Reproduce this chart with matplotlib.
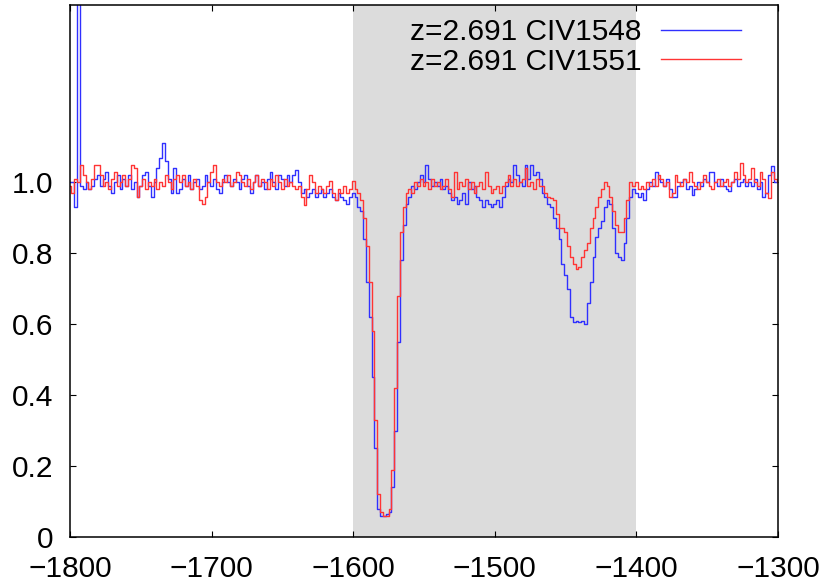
import matplotlib
matplotlib.use('Agg')
import matplotlib.pyplot as plt
import numpy as np

# 速度网格 (km/s), 每 2 km/s 一个像素
velocity = np.arange(-1800, -1299, 2)

# z=2.691 CIV1548 归一化流量
flux_1548 = [
    1.00, 1.00, 0.93, 3.00, 0.99, 0.98, 1.00, 0.98, 0.99, 1.01,
    1.02, 0.99, 1.01, 1.03, 0.99, 0.97, 1.00, 1.02, 0.98, 1.01,
    0.99, 1.02, 0.98, 1.00, 0.96, 0.99, 1.02, 1.03, 0.99, 0.96,
    1.00, 1.04, 1.07, 1.11, 1.06, 1.01, 0.97, 1.04, 0.97, 0.98,
    1.01, 0.99, 1.02, 0.98, 1.00, 1.01, 0.98, 0.99, 1.02, 1.00,
    0.99, 1.01, 0.98, 0.97, 1.00, 1.02, 1.00, 0.99, 1.01, 1.00,
    0.98, 1.01, 1.02, 0.99, 0.97, 1.00, 1.02, 0.99, 1.00, 0.98,
    1.01, 1.03, 1.00, 0.98, 1.02, 1.01, 0.99, 1.02, 1.00, 1.02,
    1.035, 1.00, 0.97, 0.98, 0.96, 0.97, 0.98, 0.96, 0.97, 0.98,
    0.96, 0.97, 0.98, 0.96, 0.95, 0.97, 0.96, 0.95, 0.94, 0.96,
    0.97, 0.96, 0.93, 0.92, 0.84, 0.72, 0.62, 0.45, 0.25, 0.08,
    0.06, 0.06, 0.065, 0.07, 0.14, 0.30, 0.55, 0.78, 0.88, 0.94,
    0.96, 0.99, 0.98, 1.00, 1.02, 1.00, 1.05, 1.01, 0.99, 1.00,
    0.99, 1.01, 0.98, 0.99, 0.97, 0.95, 0.96, 0.94, 0.95, 0.97,
    0.94, 1.00, 0.98, 0.99, 0.96, 0.95, 0.93, 0.95, 0.94, 0.93,
    0.94, 0.95, 0.93, 0.96, 0.99, 1.01, 1.00, 1.05, 1.02, 1.00,
    0.99, 1.05, 1.01, 1.05, 1.02, 1.03, 1.01, 0.97, 0.96, 0.94,
    0.93, 0.90, 0.87, 0.84, 0.77, 0.74, 0.70, 0.62, 0.605, 0.61,
    0.605, 0.61, 0.60, 0.66, 0.72, 0.79, 0.845, 0.87, 0.89, 0.93,
    0.95, 0.94, 0.87, 0.80, 0.79, 0.78, 0.83, 0.90, 0.96, 0.98,
    0.97, 0.96, 0.97, 0.95, 0.98, 1.00, 0.99, 1.03, 1.01, 1.00,
    0.99, 1.01, 0.98, 0.96, 0.96, 0.99, 1.00, 1.01, 0.98, 0.99,
    0.965, 0.98, 1.00, 0.99, 1.01, 1.00, 1.03, 1.03, 1.00, 0.99,
    1.01, 0.99, 0.98, 0.975, 1.00, 1.01, 0.99, 1.00, 1.01, 0.99,
    1.00, 0.99, 1.01, 0.98, 1.00, 0.96, 0.97, 1.02, 1.045, 1.00,
    1.00,
]

# z=2.691 CIV1551 归一化流量
flux_1551 = [
    0.99, 0.97, 1.01, 1.00, 1.05, 1.02, 1.00, 0.98, 1.01, 1.05,
    1.05, 1.02, 0.99, 1.00, 0.98, 1.01, 1.03, 0.99, 1.00, 1.02,
    0.99, 1.01, 1.05, 1.04, 0.96, 0.99, 1.01, 0.98, 1.00, 0.99,
    1.01, 0.98, 1.00, 0.99, 1.02, 1.00, 0.98, 1.01, 1.02, 1.00,
    1.02, 0.99, 1.00, 0.98, 1.01, 0.99, 0.95, 0.94, 0.96, 1.00,
    1.03, 1.05, 1.00, 0.99, 1.01, 1.00, 1.02, 0.99, 1.00, 1.03,
    1.02, 1.00, 0.99, 1.01, 0.98, 1.00, 1.02, 0.99, 1.01, 1.00,
    0.98, 1.01, 0.99, 1.02, 1.00, 0.98, 1.01, 0.99, 1.00, 0.99,
    0.98, 0.99, 0.96, 0.935, 0.98, 1.02, 1.00, 0.97, 0.99, 0.98,
    0.97, 0.99, 1.005, 0.97, 0.95, 0.98, 0.97, 0.99, 0.97, 0.98,
    1.005, 0.98, 0.97, 0.95, 0.90, 0.82, 0.72, 0.58, 0.33, 0.12,
    0.07, 0.06, 0.06, 0.08, 0.19, 0.42, 0.68, 0.86, 0.93, 0.97,
    0.98, 0.97, 1.00, 0.99, 1.01, 0.99, 1.00, 0.98, 1.01, 0.99,
    1.00, 0.98, 0.99, 1.01, 0.98, 0.96, 1.03, 0.98, 1.00, 0.99,
    1.01, 0.98, 1.00, 0.97, 0.99, 1.00, 0.98, 1.03, 0.99, 0.97,
    0.98, 0.99, 0.97, 0.99, 1.00, 1.02, 0.99, 1.01, 0.99, 1.00,
    1.01, 1.04, 0.99, 1.00, 0.98, 1.01, 0.99, 0.99, 0.97, 0.96,
    0.955, 0.95, 0.91, 0.87, 0.87, 0.86, 0.82, 0.79, 0.77, 0.755,
    0.76, 0.79, 0.81, 0.83, 0.87, 0.90, 0.93, 0.96, 0.98, 1.00,
    0.99, 0.96, 0.92, 0.88, 0.86, 0.86, 0.90, 0.95, 1.00, 0.99,
    1.00, 0.98, 0.99, 0.98, 1.00, 0.99, 1.01, 0.99, 1.02, 1.01,
    0.99, 1.00, 0.96, 0.97, 1.02, 1.00, 0.99, 1.01, 1.00, 1.03,
    1.00, 0.99, 0.98, 1.00, 1.02, 1.00, 0.99, 0.98, 1.00, 1.01,
    0.99, 1.00, 1.01, 0.99, 1.00, 1.03, 1.01, 1.055, 1.02, 1.00,
    1.01, 1.04, 1.00, 0.99, 1.03, 1.01, 0.97, 0.955, 1.03, 1.01,
    1.00,
]

labels = ['z=2.691 CIV1548', 'z=2.691 CIV1551']
shade_range = (-1600, -1400)
x_ticks = [-1800, -1700, -1600, -1500, -1400, -1300]
y_ticks = [0, 0.2, 0.4, 0.6, 0.8, 1.0]
y_tick_labels = ['0', '0.2', '0.4', '0.6', '0.8', '1.0']

plt.rcParams['font.family'] = ['Liberation Sans', 'DejaVu Sans']
plt.rcParams['font.size'] = 21.5

fig = plt.figure(figsize=(8.23, 5.84), dpi=100)
ax = fig.add_axes([70 / 823, 47 / 584, 708 / 823, 532 / 584])

ax.axvspan(*shade_range, color='#dcdcdc', lw=0, zorder=0)
ax.step(velocity, flux_1548, where='mid', color='#3030ff', lw=1.0, label=labels[0])
ax.step(velocity, flux_1551, where='mid', color='#ff3434', lw=1.0, label=labels[1])

ax.set_xlim(-1800, -1300)
ax.set_ylim(0, 1.5)
ax.set_xticks(x_ticks)
ax.set_yticks(y_ticks)
ax.set_yticklabels(y_tick_labels)
ax.tick_params(direction='in', length=4.5, width=0.8, top=True, right=True)
ax.tick_params(axis='x', pad=13)
ax.tick_params(axis='y', pad=12)
for side in ax.spines.values():
    side.set_linewidth(1.1)

ax.legend(loc='upper right', bbox_to_anchor=(0.948, 0.975), frameon=False,
          markerfirst=False, handlelength=2.7, handletextpad=0.65,
          labelspacing=0.05, borderpad=0, borderaxespad=0)

fig.savefig('out.png', dpi=100)
